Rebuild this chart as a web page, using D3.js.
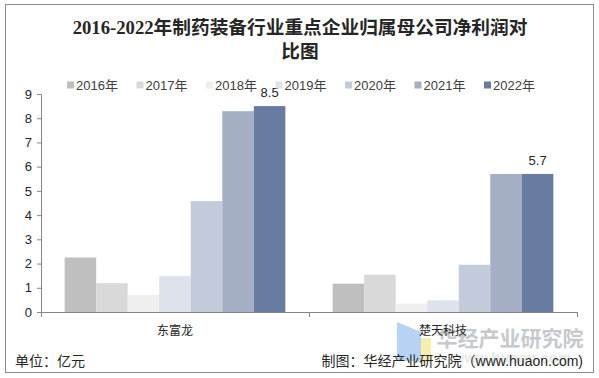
<!DOCTYPE html>
<html>
<head>
<meta charset="utf-8">
<script src="https://cdn.jsdelivr.net/npm/d3@7"></script>
<style>
  body { margin: 0; background: #fff; }
  text { font-family: "Liberation Sans", Arial, "Noto Sans CJK SC", sans-serif; }
</style>
</head>
<body>
<script>
// data
var companies = ["东富龙", "楚天科技"];
var years = ["2016年", "2017年", "2018年", "2019年", "2020年", "2021年", "2022年"];
var dongfulong = [2.25, 1.19, 0.7, 1.48, 4.58, 8.29, 8.5];
var chutian = [1.17, 1.54, 0.35, 0.48, 1.95, 5.7, 5.7];
var yTicks = [0, 1, 2, 3, 4, 5, 6, 7, 8, 9];
var colors = ["#bfbfbf", "#d9d9d9", "#efefef", "#dde2ec", "#c3cad9", "#a4afc6", "#687ba0"];
// only the last series carries value labels
var labelSeries = "2022年";

var seriesValues = [dongfulong, chutian];

var width = 599, height = 378;
var margin = { top: 94, right: 22, bottom: 66, left: 41 };

var svg = d3.select("body").append("svg")
    .attr("width", width)
    .attr("height", height);

// outer frame
svg.append("rect")
    .attr("x", 5.5).attr("y", 4.5)
    .attr("width", 588).attr("height", 368)
    .attr("fill", "#fff")
    .attr("stroke", "#8c8c8c");

// title
var title = svg.append("text")
    .attr("text-anchor", "middle")
    .style("font-family", "'Liberation Serif', 'Noto Sans CJK SC', serif")
    .style("font-weight", "bold")
    .style("font-size", "18.7px")
    .attr("fill", "#262626");
title.append("tspan").attr("x", 300).attr("y", 34).text("2016-2022年制药装备行业重点企业归属母公司净利润对");
title.append("tspan").attr("x", 300).attr("y", 58).text("比图");

// scales
var x0 = d3.scaleBand()
    .domain(companies)
    .range([margin.left, width - margin.right])
    .padding(0);

var x1 = d3.scaleBand()
    .domain(years)
    .range([0, x0.bandwidth()])
    .paddingInner(0)
    .paddingOuter(0.75);

var y = d3.scaleLinear()
    .domain([0, 9])
    .range([height - margin.bottom, margin.top]);

var color = d3.scaleOrdinal().domain(years).range(colors);

// bars
var groups = svg.selectAll("g.company")
    .data(companies)
    .enter().append("g")
    .attr("class", "company")
    .attr("transform", function (d) { return "translate(" + x0(d) + ",0)"; });

groups.selectAll("rect")
    .data(function (d, i) {
        return years.map(function (yr, j) { return { year: yr, value: seriesValues[i][j] }; });
    })
    .enter().append("rect")
    .attr("x", function (d) { return x1(d.year); })
    .attr("width", x1.bandwidth())
    .attr("y", function (d) { return y(d.value); })
    .attr("height", function (d) { return y(0) - y(d.value); })
    .attr("fill", function (d) { return color(d.year); });

// value labels
groups.selectAll("text.val")
    .data(function (d, i) {
        return [{ year: labelSeries, value: seriesValues[i][years.indexOf(labelSeries)] }];
    })
    .enter().append("text")
    .attr("class", "val")
    .attr("x", function (d) { return x1(d.year) + x1.bandwidth() / 2; })
    .attr("y", function (d) { return y(d.value) - 9; })
    .attr("text-anchor", "middle")
    .style("font-size", "13px")
    .attr("fill", "#262626")
    .text(function (d) { return d.value.toFixed(1); });

// y axis
var yAxis = svg.append("g")
    .attr("transform", "translate(" + margin.left + ",0)")
    .call(d3.axisLeft(y).tickValues(yTicks).tickSize(4).tickPadding(5));
yAxis.selectAll("path, line").attr("stroke", "#868686");
yAxis.selectAll("text").style("font-size", "13px").attr("fill", "#262626")
    .style("font-family", "'Liberation Sans', Arial, sans-serif");

// x axis with boundary ticks
var xAxisG = svg.append("g")
    .attr("transform", "translate(0," + y(0) + ")");
xAxisG.append("line")
    .attr("x1", margin.left).attr("x2", width - margin.right)
    .attr("y1", 0.5).attr("y2", 0.5)
    .attr("stroke", "#868686");
var bounds = companies.map(function (c) { return x0(c); }).concat([x0(companies[1]) + x0.bandwidth()]);
xAxisG.selectAll("line.tk")
    .data(bounds)
    .enter().append("line")
    .attr("class", "tk")
    .attr("x1", function (d) { return Math.round(d) + 0.5; })
    .attr("x2", function (d) { return Math.round(d) + 0.5; })
    .attr("y1", 0).attr("y2", 5)
    .attr("stroke", "#868686");

// watermark (logo + text) behind labels
var wm = svg.append("g");
wm.append("path")
    .attr("d", "M397,322 L421,332 L421,362 L397,360 Z")
    .attr("fill", "#a9cbf2").attr("opacity", 0.85);
wm.append("rect")
    .attr("x", 421).attr("y", 338).attr("width", 10).attr("height", 24)
    .attr("fill", "#f6eba0").attr("opacity", 0.85);
wm.append("text")
    .attr("x", 510).attr("y", 346)
    .attr("text-anchor", "middle")
    .style("font-family", "'Noto Sans CJK SC', sans-serif")
    .style("font-weight", "bold")
    .style("font-size", "21px")
    .attr("fill", "#b4b8bd").attr("opacity", 0.75)
    .text("华经产业研究院");
wm.append("text")
    .attr("x", 512).attr("y", 363)
    .attr("text-anchor", "middle")
    .style("font-size", "15px")
    .style("font-weight", "bold")
    .attr("fill", "#dcdfe2").attr("opacity", 0.7)
    .text("www.huaon.com");

// category labels
svg.selectAll("text.cat")
    .data(companies)
    .enter().append("text")
    .attr("class", "cat")
    .attr("x", function (d) { return x0(d) + x0.bandwidth() / 2; })
    .attr("y", 335)
    .attr("text-anchor", "middle")
    .style("font-size", "12px")
    .attr("fill", "#262626")
    .text(function (d) { return d; });

// legend
var legend = svg.selectAll("g.legend")
    .data(years)
    .enter().append("g")
    .attr("class", "legend")
    .attr("transform", function (d, i) { return "translate(" + (67 + i * 69.5) + ",85)"; });
legend.append("rect")
    .attr("x", 0).attr("y", -3.5)
    .attr("width", 7).attr("height", 7)
    .attr("fill", function (d) { return color(d); });
legend.append("text")
    .attr("x", 9).attr("y", 5)
    .style("font-size", "13px")
    .attr("fill", "#404040")
    .text(function (d) { return d; });

// footer
svg.append("text")
    .attr("x", 15).attr("y", 366)
    .style("font-size", "14px")
    .attr("fill", "#262626")
    .text("单位：亿元");
svg.append("text")
    .attr("x", 583).attr("y", 366)
    .attr("text-anchor", "end")
    .style("font-size", "14px")
    .attr("fill", "#262626")
    .text("制图：华经产业研究院（www.huaon.com)");
</script>
</body>
</html>
